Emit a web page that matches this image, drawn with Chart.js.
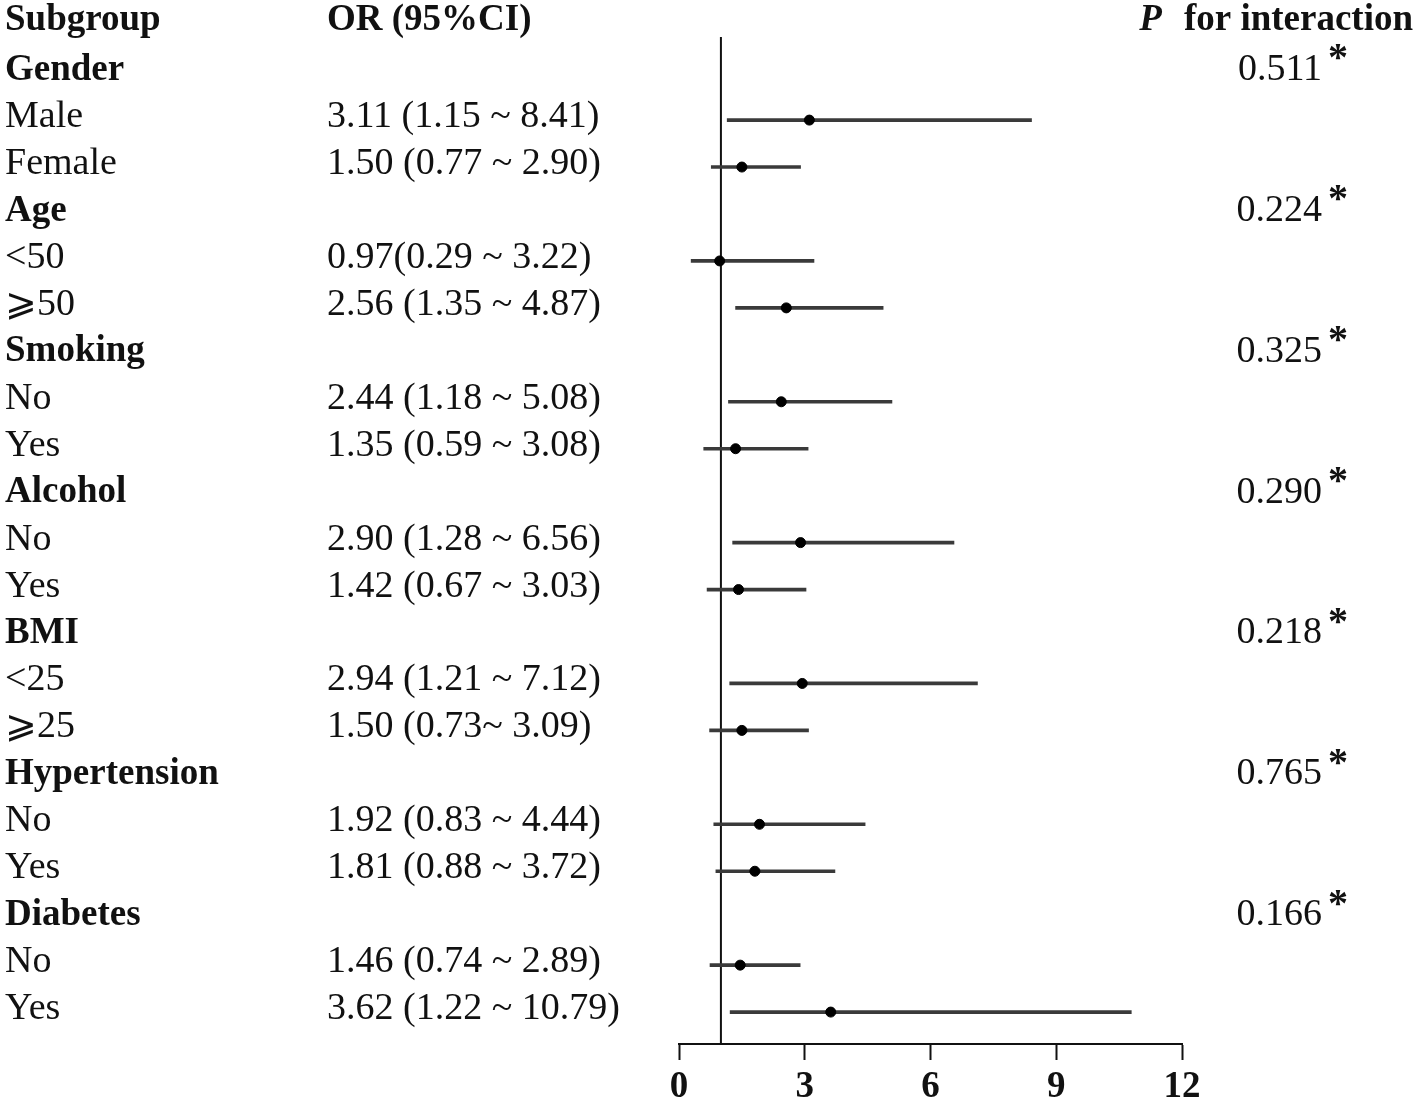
<!DOCTYPE html>
<html>
<head>
<meta charset="utf-8">
<script src="https://cdn.jsdelivr.net/npm/chart.js@4.4.1/dist/chart.umd.min.js"></script>
<style>
  body { margin: 0; background: #fff; }
  #wrap { width: 1417px; height: 1105px; }
</style>
</head>
<body>
<div id="wrap"><canvas id="forest" width="1417" height="1105"></canvas></div>
<script>
// rows under the "Subgroup" header, top to bottom
const rowLabels = ['Gender', 'Male', 'Female', 'Age', '<50', '⩾50', 'Smoking', 'No', 'Yes',
  'Alcohol', 'No', 'Yes', 'BMI', '<25', '⩾25', 'Hypertension', 'No', 'Yes', 'Diabetes', 'No', 'Yes'];
const orValues = [null, 3.11, 1.50, null, 0.97, 2.56, null, 2.44, 1.35, null, 2.90, 1.42,
  null, 2.94, 1.50, null, 1.92, 1.81, null, 1.46, 3.62];
const ciLower = [null, 1.15, 0.77, null, 0.29, 1.35, null, 1.18, 0.59, null, 1.28, 0.67,
  null, 1.21, 0.73, null, 0.83, 0.88, null, 0.74, 1.22];
const ciUpper = [null, 8.41, 2.90, null, 3.22, 4.87, null, 5.08, 3.08, null, 6.56, 3.03,
  null, 7.12, 3.09, null, 4.44, 3.72, null, 2.89, 10.79];
const orText = ['', '3.11 (1.15 ~ 8.41)', '1.50 (0.77 ~ 2.90)', '', '0.97(0.29 ~ 3.22)',
  '2.56 (1.35 ~ 4.87)', '', '2.44 (1.18 ~ 5.08)', '1.35 (0.59 ~ 3.08)', '',
  '2.90 (1.28 ~ 6.56)', '1.42 (0.67 ~ 3.03)', '', '2.94 (1.21 ~ 7.12)', '1.50 (0.73~ 3.09)', '',
  '1.92 (0.83 ~ 4.44)', '1.81 (0.88 ~ 3.72)', '', '1.46 (0.74 ~ 2.89)', '3.62 (1.22 ~ 10.79)'];
const pInteraction = ['0.511', null, null, '0.224', null, null, '0.325', null, null, '0.290', null, null,
  '0.218', null, null, '0.765', null, null, '0.166', null, null];
const xTicks = [0, 3, 6, 9, 12];
const refValue = 1;

const yTop = 0.23;
const yBottom = 21.68;
const serif = "'Liberation Serif', 'Times New Roman', serif";

const ciData = [];
const pointData = [];
rowLabels.forEach((lab, i) => {
  if (orValues[i] === null) return;
  ciData.push({ x: [ciLower[i], ciUpper[i]], y: i + 1 });
  pointData.push({ x: orValues[i], y: i + 1 });
});

const textColumns = {
  id: 'textColumns',
  afterDraw(chart) {
    const ctx = chart.ctx;
    const y = chart.scales.y;
    const off = -3;
    ctx.save();
    ctx.fillStyle = '#111';
    ctx.textBaseline = 'middle';

    // header line
    const y0 = y.getPixelForValue(0) + off - 3;
    ctx.font = 'bold 37px ' + serif;
    ctx.textAlign = 'left';
    ctx.fillText('Subgroup', 5, y0);
    ctx.fillText('OR (95%CI)', 327, y0);
    ctx.textAlign = 'right';
    const rest = 'for interaction';
    ctx.fillText(rest, 1413, y0);
    const w = ctx.measureText(rest).width;
    ctx.font = 'italic bold 37px ' + serif;
    ctx.fillText('P', 1413 - w - 22, y0);

    rowLabels.forEach((lab, i) => {
      const py = y.getPixelForValue(i + 1) + off;
      const heading = orValues[i] === null;
      ctx.textAlign = 'left';
      ctx.font = heading ? 'bold 37px ' + serif : '38px ' + serif;
      ctx.fillText(lab, 5, py);
      if (!heading) {
        ctx.font = '38px ' + serif;
        ctx.fillText(orText[i], 327, py);
      }
      if (pInteraction[i]) {
        ctx.font = '38px ' + serif;
        ctx.textAlign = 'right';
        ctx.fillText(pInteraction[i], 1322, py);
        ctx.textAlign = 'left';
        ctx.font = '600 40px ' + serif;
        ctx.fillText('*', 1328, py - 10);
      }
    });
    ctx.restore();
  }
};

new Chart(document.getElementById('forest'), {
  type: 'bar',
  data: {
    datasets: [
      {
        type: 'line',
        data: [{ x: refValue, y: yTop }, { x: refValue, y: yBottom }],
        borderColor: '#111',
        borderWidth: 2,
        pointRadius: 0,
        order: 3,
      },
      {
        type: 'bar',
        data: ciData,
        backgroundColor: '#3a3a3a',
        borderWidth: 0,
        barThickness: 3,
        order: 2,
      },
      {
        type: 'scatter',
        data: pointData,
        backgroundColor: '#000',
        borderColor: '#000',
        pointRadius: 5,
        order: 1,
      },
    ],
  },
  options: {
    indexAxis: 'y',
    responsive: false,
    animation: false,
    devicePixelRatio: 1,
    layout: { padding: { left: 679, right: 235, top: 37, bottom: 0 } },
    plugins: { legend: { display: false }, tooltip: { enabled: false } },
    scales: {
      x: {
        type: 'linear',
        position: 'bottom',
        min: xTicks[0],
        max: xTicks[xTicks.length - 1],
        afterBuildTicks: (scale) => { scale.ticks = xTicks.map((v) => ({ value: v })); },
        afterFit: (scale) => { scale.height = 61; },
        grid: { drawOnChartArea: false, drawTicks: true, tickLength: 16, tickColor: '#111', tickWidth: 2 },
        border: { display: true, color: '#111', width: 2 },
        ticks: { color: '#111', padding: 5, font: { family: serif, size: 37, weight: 'bold' } },
      },
      y: {
        type: 'linear',
        display: false,
        reverse: true,
        offset: false,
        min: yTop,
        max: yBottom,
      },
    },
  },
  plugins: [textColumns],
});
</script>
</body>
</html>
